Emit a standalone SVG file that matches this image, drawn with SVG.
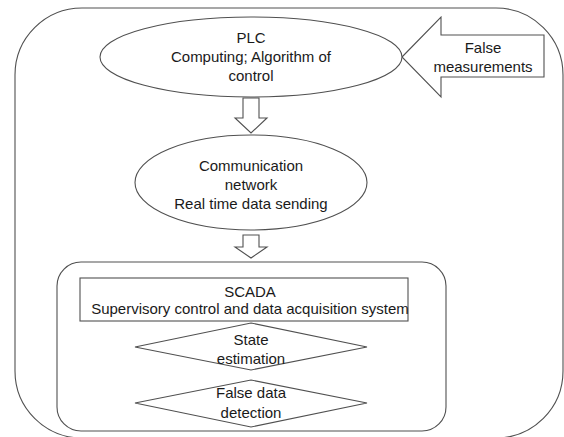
<svg xmlns="http://www.w3.org/2000/svg" width="564" height="437" viewBox="0 0 564 437">
<style>
.sh{fill:#fff;stroke:#505050;stroke-width:1.1}
.ct{fill:none;stroke:#505050;stroke-width:1.1}
.t{font-family:"Liberation Sans",Arial,sans-serif;font-size:15px;fill:#1a1a1a;text-anchor:middle}
</style>
<rect width="564" height="437" fill="#fff"/>
<g id="outer"><rect class="ct" x="15" y="8" width="548" height="430" rx="67" ry="67"/></g>
<g id="scada-group"><rect class="ct" x="57" y="262" width="389" height="169" rx="24" ry="24"/></g>
<g id="connectors">
<polygon class="sh" points="243,98 259,98 259,118 267,118 251,133 235,118 243,118"/>
<polygon class="sh" points="243,235 259,235 259,247 267,247 251,258 235,247 243,247"/>
<polygon class="sh" points="402,57 441,17 441,35 544,35 544,77 441,77 441,97"/>
</g>
<g id="plc">
<ellipse class="sh" cx="251" cy="57" rx="151" ry="40"/>
<text class="t" x="251" y="43">PLC</text>
<text class="t" x="251" y="62">Computing; Algorithm of</text>
<text class="t" x="251" y="81">control</text>
</g>
<g id="false-measurements">
<text class="t" x="483" y="53">False</text>
<text class="t" x="483" y="72">measurements</text>
</g>
<g id="comm">
<ellipse class="sh" cx="251" cy="182.5" rx="116" ry="47.5"/>
<text class="t" x="251" y="171">Communication</text>
<text class="t" x="251" y="190">network</text>
<text class="t" x="251" y="209">Real time data sending</text>
</g>
<g id="scada">
<rect class="sh" x="80" y="278" width="328" height="43"/>
<text class="t" x="250" y="297">SCADA</text>
<text class="t" x="250" y="314">Supervisory control and data acquisition system</text>
</g>
<g id="state">
<polygon class="sh" points="251,323 367,347 251,370 135,347"/>
<text class="t" x="251" y="345">State</text>
<text class="t" x="251" y="364">estimation</text>
</g>
<g id="fdd">
<polygon class="sh" points="251,380 367,403 251,427 135,403"/>
<text class="t" x="251" y="398">False data</text>
<text class="t" x="251" y="418">detection</text>
</g>
</svg>
